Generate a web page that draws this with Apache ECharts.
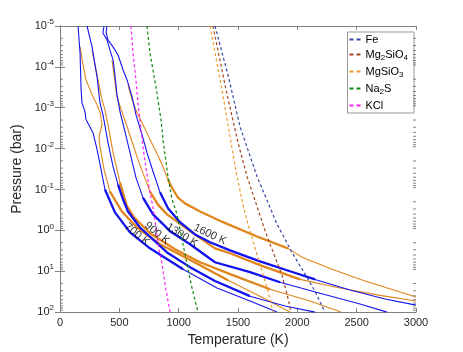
<!DOCTYPE html>
<html><head><meta charset="utf-8">
<script src="https://cdn.jsdelivr.net/npm/echarts@6/dist/echarts.min.js"></script>
<style>html,body{margin:0;padding:0;background:#fff}#c{width:463px;height:352px}</style>
</head><body><div id="c"></div>
<script>
// ---------- data: temperature (K) and log10 pressure (bar) ----------
const xTicks = [0, 500, 1000, 1500, 2000, 2500, 3000];
const yDecades = [-5, -4, -3, -2, -1, 0, 1, 2];

// cloud-free profiles (blue)
const blue700T    = [152,169,177,185,211,219,278,312,346,379,463,590,758,1037,1323,1601,1829];
const blue700LogP = [-5,-4.34,-3.51,-3.12,-2.90,-2.71,-2.39,-1.98,-1.49,-1.00,-0.44,0.05,0.44,0.95,1.41,1.73,2.00];
const blue900T    = [228,270,312,337,362,404,447,489,531,573,674,902,1096,1306,1601,1896,2149];
const blue900LogP = [-5,-4.49,-3.76,-3.12,-2.83,-2.15,-1.56,-1.12,-0.76,-0.46,-0.07,0.54,0.90,1.24,1.61,1.85,2.00];
const blue1300T   = [371,362,396,421,447,463,480,506,548,590,640,699,784,927,1096,1306,1601,1854,2191,2528,2756];
const blue1300LogP= [-5,-4.83,-4.66,-4.41,-4.17,-3.80,-3.32,-2.90,-2.41,-1.90,-1.29,-0.80,-0.39,0.02,0.34,0.78,1.02,1.27,1.54,1.80,2.00];
const blue1600T   = [396,388,404,447,489,531,565,607,640,691,733,784,843,910,1011,1138,1264,1433,1685,1938,2149,2444,2739,3000];
const blue1600LogP= [-5,-4.85,-4.66,-4.49,-4.29,-3.93,-3.68,-3.27,-2.83,-2.34,-1.90,-1.44,-0.93,-0.54,-0.20,0.10,0.29,0.49,0.76,1.00,1.20,1.46,1.68,1.83];

// cloudy profiles (orange)
const orange700T    = [169,194,219,270,312,337,354,329,337,371,421,522,649,843,1121,1416,1685,1938];
const orange700LogP = [-4.49,-4.05,-3.68,-3.32,-3.07,-2.90,-2.59,-2.29,-2.05,-1.49,-0.95,-0.46,-0.07,0.34,0.76,1.22,1.61,2.00];
const orange900T    = [270,320,354,379,413,447,480,506,539,565,624,758,969,1180,1433,1770,2107,2368];
const orange900LogP = [-4.41,-3.68,-3.20,-2.95,-2.46,-1.90,-1.49,-1.17,-0.83,-0.59,-0.32,0.07,0.46,0.78,1.07,1.44,1.73,2.00];
const orange1300T   = [438,455,480,522,565,615,657,708,758,826,902,1096,1306,1433,1685,2022,2360,2697,3000];
const orange1300LogP= [-4.17,-3.80,-3.27,-2.90,-2.54,-2.10,-1.73,-1.34,-0.95,-0.63,-0.39,0.02,0.44,0.56,0.85,1.20,1.41,1.59,1.73];
const orange1600T   = [573,607,649,699,758,809,860,910,952,994,1053,1180,1374,1660,1921,2039,2292,2570,3000];
const orange1600LogP= [-3.56,-3.20,-2.88,-2.59,-2.22,-1.93,-1.61,-1.24,-1.00,-0.80,-0.66,-0.46,-0.20,0.15,0.44,0.66,0.95,1.24,1.63];

// convective (thick) parts: [first index, last index]
const blue700Conv = [9, 13], blue900Conv = [7, 14], blue1300Conv = [11, 17], blue1600Conv = [12, 20];
const orange700Conv = [10, 15], orange900Conv = [7, 15], orange1300Conv = [8, 15], orange1600Conv = [7, 14];

// condensation curves (dashed)
const condNames = ['Fe', 'Mg2SiO4', 'MgSiO3', 'Na2S', 'KCl'];
const feT = [1306,1416,1517,1660,1829,1955,2065,2149,2233];
const feLogP = [-5,-3.80,-2.54,-1.32,-0.15,0.54,1.07,1.49,2.00];
const mg2sio4T = [1289,1399,1500,1576,1669,1719,1770,1820,1871,1913,1947];
const mg2sio4LogP = [-5,-3.44,-2.15,-1.32,-0.51,-0.07,0.34,0.71,1.10,1.56,2.00];
const mgsio3T = [1264,1365,1441,1492,1551,1593,1635,1677,1728,1770,1795];
const mgsio3LogP = [-5,-3.44,-2.15,-1.32,-0.51,-0.07,0.34,0.76,1.24,1.68,2.00];
const na2sT = [733,758,809,851,868,910,944,986,1028,1062,1096,1129,1163];
const na2sLogP = [-5,-4.34,-3.51,-2.71,-2.22,-1.32,-0.76,-0.39,0.22,0.71,1.20,1.61,2.00];
const kclT = [598,615,640,657,683,708,733,758,784,809,834,860,885,927];
const kclLogP = [-5,-4.34,-3.68,-3.12,-2.46,-1.85,-1.37,-0.93,-0.56,-0.07,0.46,0.83,1.32,2.00];

// Teff labels
const teffLabels = ['700 K', '900 K', '1300 K', '1600 K'];
const teffLabelT = [649, 817, 1028, 1264];
const teffLabelLogP = [0.10, 0.07, 0.12, 0.10];

// ---------- styles ----------
const BLUE = '#1414f0', ORANGE = '#e0861c';
const condColors = ['#3546a8', '#a4441a', '#ef9a2a', '#0a8a0a', '#ff22ff'];
const labelAngles = [-40, -40, -32, -25];
const FONT = '"Liberation Sans", Arial, Helvetica, sans-serif';
const AXIS_GRAY = '#808080', TEXT = '#262626';

function pts(T, logP, from, to) {
  const out = [];
  const a = from == null ? 0 : from, b = to == null ? T.length - 1 : to;
  for (let i = a; i <= b; i++) out.push([T[i], Math.pow(10, logP[i])]);
  return out;
}

const series = [];
const profiles = [
  [orange700T, orange700LogP, orange700Conv, ORANGE],
  [orange900T, orange900LogP, orange900Conv, ORANGE],
  [orange1300T, orange1300LogP, orange1300Conv, ORANGE],
  [orange1600T, orange1600LogP, orange1600Conv, ORANGE],
  [blue700T, blue700LogP, blue700Conv, BLUE],
  [blue900T, blue900LogP, blue900Conv, BLUE],
  [blue1300T, blue1300LogP, blue1300Conv, BLUE],
  [blue1600T, blue1600LogP, blue1600Conv, BLUE]
];
profiles.forEach(function (p, i) {
  series.push({ type: 'line', name: 'thin' + i, data: pts(p[0], p[1]), symbol: 'none', silent: true,
    lineStyle: { color: p[3], width: 1.1 }, z: 2, animation: false });
});
profiles.forEach(function (p, i) {
  series.push({ type: 'line', name: 'thick' + i, data: pts(p[0], p[1], p[2][0], p[2][1]), symbol: 'none', silent: true,
    lineStyle: { color: p[3], width: 2.3 }, z: 3, animation: false });
});
const condT = [feT, mg2sio4T, mgsio3T, na2sT, kclT];
const condP = [feLogP, mg2sio4LogP, mgsio3LogP, na2sLogP, kclLogP];
condNames.forEach(function (n, i) {
  series.push({ type: 'line', name: n, data: pts(condT[i], condP[i]), symbol: 'none', silent: true,
    itemStyle: { color: condColors[i] },
    lineStyle: { color: condColors[i], width: 1.2, type: [3, 2.5] }, z: 4, animation: false });
});
// Teff labels
series.push({
  type: 'scatter', name: 'labels', symbolSize: 0, silent: true, z: 6, animation: false,
  data: teffLabels.map(function (t, i) {
    return { value: [teffLabelT[i], Math.pow(10, teffLabelLogP[i])],
      label: { show: true, position: 'inside', formatter: t, rotate: labelAngles[i],
        color: '#000', fontSize: 11, fontFamily: FONT } };
  })
});
// minor log ticks on left and right frame
const minorVals = [];
for (let e = -5; e < 2; e++) for (let k = 2; k <= 9; k++) minorVals.push([0, k * Math.pow(10, e)]);
series.push({
  type: 'custom', name: 'minor', silent: true, z: 7, animation: false, clip: false,
  data: minorVals,
  renderItem: function (params, api) {
    const L = api.coord([0, api.value(1)]);
    const R = api.coord([3000, api.value(1)]);
    return { type: 'group', children: [
      { type: 'line', shape: { x1: L[0], y1: L[1], x2: L[0] + 3, y2: L[1] }, style: { stroke: AXIS_GRAY, lineWidth: 1 } },
      { type: 'line', shape: { x1: R[0], y1: R[1], x2: R[0] - 3, y2: R[1] }, style: { stroke: AXIS_GRAY, lineWidth: 1 } }
    ] };
  }
});

function sub(name) { return name.replace(/(\d)/g, '{sub|$1}'); }
const dashIcon = 'path://M0,0h4v2h-4zM7,0h4v2h-4z';

const chart = echarts.init(document.getElementById('c'), null, { renderer: 'canvas' });
chart.setOption({
  backgroundColor: '#fff',
  animation: false,
  grid: { left: 60, right: 47, top: 26, bottom: 39, containLabel: false },
  legend: {
    data: condNames.map(function (n, i) {
      return { name: n, icon: dashIcon, itemStyle: { color: condColors[i], borderWidth: 0 } };
    }),
    orient: 'vertical', right: 49, top: 32, itemWidth: 11, itemHeight: 2, itemGap: 4,
    padding: [2, 6, 2, 2], borderColor: '#999', borderWidth: 1, backgroundColor: '#fff',
    selectedMode: false,
    formatter: function (n) { return sub(n); },
    textStyle: { fontSize: 11, color: '#000', fontFamily: FONT,
      rich: { sub: { fontSize: 8, fontFamily: FONT, padding: [7, 0, 0, 0] } } }
  },
  xAxis: [{
    type: 'value', min: 0, max: 3000, interval: 500, position: 'bottom',
    name: 'Temperature (K)', nameLocation: 'middle', nameGap: 20,
    nameTextStyle: { fontSize: 14, color: TEXT, fontFamily: FONT },
    axisLine: { show: true, lineStyle: { color: AXIS_GRAY } },
    axisTick: { show: true, inside: true, length: 4, lineStyle: { color: AXIS_GRAY } },
    axisLabel: { fontSize: 11, color: TEXT, margin: 5, fontFamily: FONT,
      formatter: function (v) { return String(v); } },
    splitLine: { show: false }
  }, {
    type: 'value', min: 0, max: 3000, interval: 500, position: 'top',
    axisLine: { show: true, lineStyle: { color: AXIS_GRAY } },
    axisTick: { show: true, inside: true, length: 4, lineStyle: { color: AXIS_GRAY } },
    axisLabel: { show: false }, splitLine: { show: false }
  }],
  yAxis: [{
    type: 'log', logBase: 10, min: 1e-5, max: 1e2, inverse: true, splitNumber: 7, position: 'left',
    name: 'Pressure (bar)', nameLocation: 'middle', nameGap: 32,
    nameTextStyle: { fontSize: 14, color: TEXT, fontFamily: FONT },
    axisLine: { show: true, lineStyle: { color: AXIS_GRAY } },
    axisTick: { show: true, inside: true, length: 5, lineStyle: { color: AXIS_GRAY } },
    axisLabel: { margin: 6, fontFamily: FONT,
      formatter: function (v) { return '{b|10}{s|' + Math.round(Math.log10(v)) + '}'; },
      rich: { b: { fontSize: 11, color: TEXT, fontFamily: FONT, lineHeight: 16 },
              s: { fontSize: 8, color: TEXT, fontFamily: FONT, verticalAlign: 'top', lineHeight: 10 } } },
    splitLine: { show: false }
  }, {
    type: 'log', logBase: 10, min: 1e-5, max: 1e2, inverse: true, splitNumber: 7, position: 'right',
    axisLine: { show: true, lineStyle: { color: AXIS_GRAY } },
    axisTick: { show: true, inside: true, length: 5, lineStyle: { color: AXIS_GRAY } },
    axisLabel: { show: false }, splitLine: { show: false }
  }],
  series: series
});
</script>
</body></html>
